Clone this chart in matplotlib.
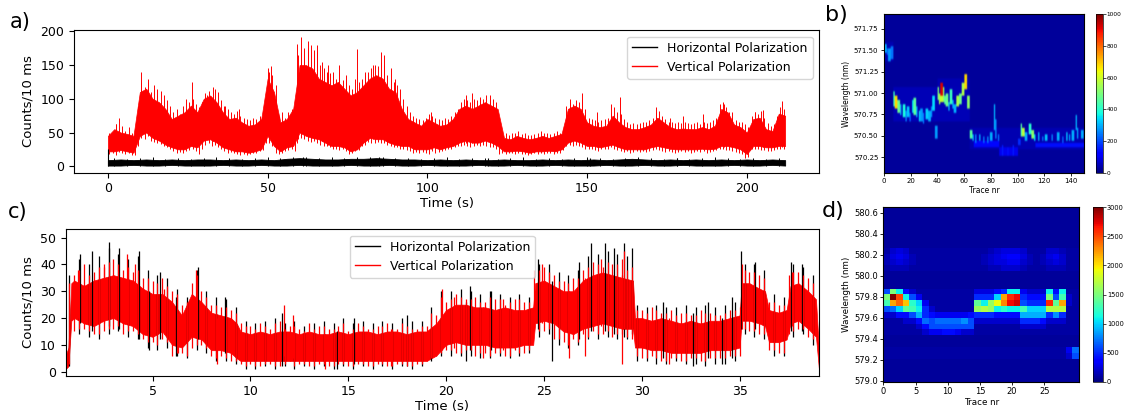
import numpy as np
import matplotlib
matplotlib.use("Agg")
import matplotlib.pyplot as plt
from matplotlib.lines import Line2D

# ---------------- a) long trace ----------------
# band edges every 2 s
a_time = np.arange(0, 213, 2)
a_vert_low = [22, 22, 24, 22, 20, 45, 50, 42, 38, 32,
              28, 25, 25, 30, 28, 38, 40, 35, 28, 25,
              22, 22, 20, 22, 25, 45, 30, 22, 28, 30,
              50, 45, 42, 40, 35, 30, 30, 28, 22, 25,
              35, 42, 40, 40, 35, 32, 30, 30, 25, 25,
              25, 28, 25, 28, 30, 35, 38, 35, 35, 38,
              35, 30, 22, 22, 23, 22, 20, 22, 22, 23,
              22, 25, 35, 38, 35, 30, 30, 28, 30, 32,
              28, 25, 25, 25, 25, 28, 30, 28, 26, 25,
              25, 25, 25, 26, 25, 26, 30, 30, 28, 25,
              18, 30, 30, 28, 28, 30, 30]
a_vert_high = [45, 55, 50, 48, 45, 110, 115, 100, 95, 85,
               70, 75, 80, 90, 80, 100, 105, 95, 80, 70,
               72, 65, 60, 62, 70, 130, 110, 65, 70, 85,
               150, 150, 145, 130, 125, 120, 125, 115, 105, 110,
               120, 130, 135, 130, 115, 110, 85, 70, 65, 60,
               70, 65, 60, 62, 70, 85, 90, 85, 90, 95,
               90, 85, 42, 40, 45, 42, 40, 42, 45, 42,
               45, 48, 85, 90, 85, 65, 60, 58, 60, 75,
               65, 58, 55, 55, 58, 62, 72, 65, 58, 55,
               56, 55, 55, 58, 55, 60, 85, 80, 62, 58,
               50, 70, 72, 55, 52, 78, 75]
# noise extremes every 1 s, half a second off the band grid
a_comb_time = np.arange(0.5, 212, 1.0)
a_vert_peak = [50, 48, 62, 55, 60, 52, 58, 50, 55, 90,
               125, 118, 130, 110, 120, 105, 112, 100, 98, 90,
               80, 85, 78, 90, 85, 95, 100, 92, 88, 95,
               108, 112, 100, 115, 110, 98, 90, 85, 80, 78,
               82, 75, 72, 70, 68, 72, 70, 75, 80, 110,
               140, 135, 120, 75, 80, 72, 80, 85, 95, 165,
               170, 160, 175, 165, 160, 170, 150, 145, 140, 138,
               135, 130, 140, 128, 125, 120, 115, 130, 125, 130,
               135, 140, 145, 150, 148, 155, 150, 135, 130, 125,
               120, 115, 100, 90, 80, 75, 72, 70, 68, 72,
               78, 75, 72, 70, 68, 72, 70, 75, 80, 85,
               95, 100, 98, 95, 100, 98, 102, 100, 105, 100,
               100, 95, 60, 48, 50, 47, 49, 50, 52, 48,
               50, 47, 46, 48, 50, 52, 49, 50, 48, 50,
               52, 50, 55, 90, 95, 92, 98, 95, 100, 85,
               72, 70, 68, 66, 68, 70, 72, 80, 88, 80,
               78, 70, 66, 62, 64, 62, 64, 66, 65, 68,
               72, 80, 82, 75, 70, 66, 65, 64, 66, 64,
               66, 64, 62, 64, 66, 62, 65, 64, 66, 68,
               72, 92, 95, 88, 80, 72, 68, 66, 65, 62,
               58, 75, 80, 78, 82, 72, 64, 60, 62, 75,
               88, 85]
a_vert_dip = [18, 20, 17, 21, 19, 18, 20, 17, 16, 30,
              42, 40, 45, 38, 36, 35, 33, 30, 28, 26,
              22, 20, 21, 19, 22, 24, 25, 22, 18, 26,
              32, 34, 30, 32, 28, 25, 22, 20, 21, 20,
              18, 17, 18, 16, 18, 19, 20, 22, 24, 35,
              35, 30, 20, 18, 20, 22, 24, 25, 22, 40,
              42, 40, 38, 36, 38, 35, 32, 30, 30, 28,
              25, 26, 24, 25, 22, 18, 20, 22, 24, 30,
              32, 36, 35, 34, 36, 34, 35, 32, 30, 28,
              28, 26, 25, 24, 22, 20, 21, 20, 21, 20,
              18, 22, 20, 21, 22, 24, 25, 26, 28, 30,
              30, 32, 30, 28, 30, 32, 30, 31, 30, 29,
              28, 26, 18, 19, 18, 19, 20, 18, 19, 18,
              18, 17, 18, 19, 18, 19, 18, 20, 19, 18,
              19, 20, 24, 30, 32, 30, 32, 30, 28, 26,
              25, 26, 24, 23, 25, 26, 26, 28, 26, 24,
              22, 21, 22, 20, 21, 22, 21, 22, 21, 22,
              24, 25, 24, 22, 21, 22, 21, 20, 21, 22,
              21, 22, 20, 21, 22, 21, 22, 20, 21, 22,
              24, 26, 25, 24, 24, 22, 21, 20, 18, 12,
              14, 25, 26, 25, 24, 24, 22, 23, 24, 25,
              25, 26]
# tallest single spikes
a_vert_spike_t = [2.5, 3.5, 10.5, 12.5, 15.5, 17.5, 24.5, 26.2, 31, 33,
                  36.7, 41, 50.2, 51, 59.3, 60.5, 61.5, 62.5, 63.5, 64.5,
                  65.5, 67, 69, 70.5, 72.5, 74.5, 78, 80.5, 83, 85.5,
                  86.5, 88.5, 90, 101, 112, 114, 116.5, 119.5, 120.5, 144.5,
                  148.3, 153, 157.4, 160.3, 171.5, 176, 180, 186.4, 192.7, 195.5,
                  202.5, 205.2, 211]
a_vert_spike_hi = [62, 72, 140, 125, 115, 105, 100, 125, 105, 118,
                   90, 85, 145, 148, 182, 192, 175, 185, 180, 172,
                   180, 155, 150, 140, 150, 135, 174, 140, 150, 170,
                   165, 145, 130, 80, 105, 108, 100, 105, 98, 100,
                   108, 80, 92, 102, 88, 72, 75, 77, 92, 80,
                   80, 84, 96]
a_vert_spike_lo = [25, 25, 55, 50, 42, 38, 28, 30, 40, 38,
                   28, 22, 45, 45, 35, 50, 48, 45, 45, 42,
                   40, 38, 32, 30, 30, 28, 25, 35, 40, 40,
                   40, 35, 32, 25, 35, 35, 35, 35, 33, 35,
                   35, 28, 30, 28, 28, 25, 25, 25, 28, 28,
                   28, 28, 28]

a_horiz_time = np.arange(0, 213, 4)
a_horiz_low = [1, 1, 2, 1, 1, 2, 1, 1, 1, 2,
               1, 1, 2, 1, 1, 2, 1, 1, 1, 2,
               1, 1, 2, 1, 1, 2, 1, 1, 1, 2,
               1, 1, 2, 1, 1, 2, 1, 1, 1, 2,
               1, 1, 2, 1, 1, 2, 1, 1, 1, 2,
               1, 1, 2, 1]
a_horiz_high = [9, 10, 9, 10, 9, 10, 9, 10, 10, 9,
                10, 9, 10, 9, 11, 12, 11, 10, 10, 11,
                11, 12, 11, 10, 10, 9, 10, 9, 10, 9,
                9, 10, 9, 9, 10, 9, 10, 9, 10, 9,
                10, 11, 10, 9, 10, 9, 10, 9, 10, 9,
                10, 9, 10, 9]
a_horiz_comb_time = np.arange(2, 211, 4)
a_horiz_peak = [12, 11, 12, 13, 11, 12, 11, 12, 13, 12,
                11, 12, 13, 12, 14, 13, 12, 13, 12, 13,
                14, 13, 12, 12, 11, 12, 13, 11, 12, 12,
                11, 12, 13, 11, 12, 11, 12, 13, 12, 11,
                12, 13, 12, 11, 12, 11, 12, 13, 12, 11,
                12, 11, 12]
a_horiz_spike_t = [0, 61, 85, 119, 151, 178]
a_horiz_spike_hi = [25, 14, 13, 12, 12, 12]

# ---------------- c) short trace ----------------
# dense core of the vertical trace
c_time = [0.56, 0.7, 0.85, 1.0, 1.5, 2.0, 2.5, 3.0, 3.5, 4.0,
          4.5, 5.0, 5.5, 6.0, 6.5, 7.0, 7.5, 8.0, 8.5, 9.0,
          9.3, 9.5, 10.0, 10.5, 11.0, 11.5, 12.0, 12.5, 13.0, 13.5,
          14.0, 14.5, 15.0, 15.5, 16.0, 16.5, 17.0, 17.5, 18.0, 18.5,
          19.0, 19.5, 20.0, 20.5, 21.0, 21.5, 22.0, 22.5, 23.0, 23.5,
          24.0, 24.45, 24.55, 25.0, 25.5, 26.0, 26.5, 27.0, 27.5, 28.0,
          28.5, 29.0, 29.55, 29.65, 30.0, 30.5, 31.0, 31.5, 32.0, 32.5,
          33.0, 33.5, 34.0, 34.5, 35.0, 35.1, 35.5, 36.0, 36.3, 36.5,
          37.0, 37.4, 37.6, 38.0, 38.5, 38.9, 39.05]
c_vert_low = [1, 2, 19, 20, 18, 17, 19, 20, 18, 17,
              14, 13, 15, 10, 9, 13, 12, 8, 8, 7,
              5, 4, 4, 4, 4, 4, 4, 4, 4, 4,
              4, 4, 4, 4, 4, 4, 4, 4, 4, 4,
              4, 6, 10, 11, 10, 10, 10, 9, 9, 9,
              10, 10, 18, 19, 18, 15, 14, 16, 17, 18,
              17, 16, 16, 9, 9, 8, 8, 7, 7, 7,
              7, 8, 8, 8, 9, 19, 19, 18, 17, 11,
              11, 12, 18, 19, 16, 13, 1]
c_vert_high = [6, 9, 33, 34, 32, 34, 35, 36, 35, 34,
               31, 29, 29, 26, 21, 29, 26, 22, 21, 20,
               18, 15, 14, 15, 14, 15, 15, 14, 15, 14,
               14, 15, 14, 15, 15, 14, 15, 15, 14, 15,
               15, 18, 23, 25, 25, 24, 24, 23, 24, 23,
               23, 24, 33, 34, 32, 30, 30, 34, 36, 37,
               36, 35, 34, 20, 20, 19, 20, 19, 18, 19,
               18, 19, 19, 20, 21, 33, 33, 31, 30, 23,
               22, 23, 32, 33, 30, 27, 8]
# noise extremes every 0.5 s (two interleaved sets for the vertical trace)
c_comb_time = np.arange(0.75, 39, 0.5)
c_vert_peak = [33, 38, 36, 39, 41, 40, 39, 38, 35, 33,
               32, 29, 26, 36, 28, 25, 24, 22, 17, 16,
               17, 18, 16, 17, 15, 16, 17, 16, 18, 16,
               17, 16, 17, 16, 18, 16, 17, 22, 28, 27,
               28, 27, 26, 28, 27, 26, 27, 26, 38, 37,
               34, 33, 35, 39, 40, 41, 40, 38, 23, 22,
               23, 22, 21, 22, 21, 22, 21, 22, 23, 38,
               37, 35, 26, 25, 37, 36, 33]
c_vert_dip = [3, 16, 15, 14, 16, 17, 15, 14, 11, 10,
              11, 7, 6, 10, 9, 5, 5, 4, 2, 2,
              3, 2, 3, 2, 3, 2, 3, 2, 3, 2,
              3, 2, 3, 2, 3, 2, 3, 5, 7, 8,
              7, 8, 7, 6, 7, 6, 7, 8, 15, 16,
              12, 10, 11, 13, 14, 15, 14, 13, 6, 5,
              5, 4, 5, 4, 5, 4, 5, 5, 6, 16,
              15, 14, 8, 7, 15, 16, 12]
c_comb2_time = np.arange(1.0, 38.6, 0.5)
c_vert_peak2 = [36, 40, 37, 39, 42, 38, 37, 35, 34, 35,
                30, 25, 33, 30, 25, 24, 23, 18, 17, 18,
                16, 19, 17, 16, 18, 17, 16, 17, 15, 18,
                16, 17, 18, 16, 17, 16, 17, 21, 26, 29,
                27, 28, 26, 27, 25, 27, 26, 38, 39, 36,
                34, 35, 38, 41, 39, 40, 42, 39, 23, 24,
                22, 23, 22, 21, 23, 22, 21, 23, 24, 37,
                36, 26, 25, 36, 37, 35]
c_vert_dip2 = [15, 16, 14, 15, 16, 14, 15, 12, 11, 12,
               6, 7, 9, 10, 6, 6, 4, 3, 3, 2,
               3, 2, 4, 3, 2, 3, 2, 3, 2, 3,
               2, 3, 2, 3, 2, 3, 4, 6, 8, 7,
               8, 6, 7, 7, 6, 8, 7, 16, 15, 12,
               11, 12, 14, 15, 14, 13, 14, 12, 5, 6,
               4, 5, 4, 5, 4, 5, 5, 6, 6, 15,
               14, 8, 7, 14, 16, 13]
c_horiz_peak = [36, 42, 40, 43, 46, 44, 42, 43, 38, 36,
                35, 31, 28, 38, 30, 28, 27, 24, 19, 18,
                19, 20, 18, 19, 17, 18, 19, 18, 20, 18,
                19, 18, 19, 18, 20, 19, 19, 24, 30, 30,
                31, 30, 29, 30, 29, 28, 29, 28, 40, 40,
                37, 36, 38, 43, 44, 45, 44, 43, 25, 24,
                25, 24, 24, 25, 24, 25, 24, 25, 26, 40,
                40, 38, 29, 28, 40, 39, 36]
c_horiz_dip = [2, 14, 13, 12, 14, 15, 13, 12, 9, 8,
               9, 6, 5, 8, 7, 4, 4, 3, 1, 1,
               2, 1, 2, 1, 2, 1, 2, 1, 2, 1,
               2, 1, 2, 1, 2, 1, 2, 4, 6, 6,
               6, 6, 5, 5, 6, 5, 6, 7, 13, 14,
               10, 9, 10, 12, 12, 13, 12, 12, 4, 4,
               3, 3, 4, 3, 3, 2, 3, 3, 4, 14,
               13, 12, 6, 6, 13, 14, 10]
c_vert_spike_t = [1.2, 2.5, 3.7, 4.1, 5.6, 6.3, 7.2, 8.3, 11.7, 12.2,
                  13.8, 17.2, 19.8, 20.4, 21.9, 22.9, 24.9, 26.3, 27.1, 27.9,
                  29.0, 29.1, 31.4, 35.1, 37.7]
c_vert_spike_lo = [20, 18, 18, 17, 14, 7, 13, 3, 6, 5,
                   1, 2, 8, 9, 5, 8, 18, 5, 6, 17,
                   3, 16, 3, 16, 17]
c_vert_spike_hi = [38, 40, 44, 40, 31, 22, 38, 20, 25, 21,
                   14, 16, 31, 28, 24, 27, 40, 30, 35, 42,
                   36, 45, 20, 40, 37]
c_horiz_spike_t = [1.3, 1.9, 2.8, 3.3, 4.3, 4.8, 5.4, 6.2, 7.3, 8.7,
                   11.6, 14.4, 15.3, 18.0, 21.0, 21.2, 22.3, 24.7, 25.4, 26.8,
                   27.4, 28.1, 28.6, 29.1, 29.5, 31.1, 32.6, 33.4, 34.1, 34.6,
                   35.05, 35.8, 37.6, 38.2]
c_horiz_spike_lo = [18, 15, 17, 16, 12, 8, 12, 6, 12, 7,
                    2, 1, 3, 2, 4, 8, 8, 16, 4, 12,
                    15, 15, 14, 13, 14, 5, 2, 5, 3, 5,
                    16, 16, 15, 15]
c_horiz_spike_hi = [44, 45, 48.5, 46, 45, 30, 37, 28, 39, 28,
                    22, 15, 20, 21, 26, 32, 30, 42, 34, 41,
                    48, 48, 46, 48, 46, 26, 22, 26, 20, 28,
                    45, 41, 41, 40]

# ---------------- b) spectra vs trace number ----------------
b_traces = 150
b_nm_range = (570.07, 571.92)
b_nm_rows = 74
b_background = 25
# (first trace, end trace, lower nm, upper nm, counts)
b_streaks = [
    (0, 7, 571.36, 571.60, 45), (7, 64, 570.66, 571.06, 50), (40, 64, 571.0, 571.16, 45),
    (64, 150, 570.34, 570.60, 45),
    (0, 2, 571.47, 571.57, 300), (2, 3, 571.44, 571.52, 220), (3, 5, 571.38, 571.52, 280),
    (5, 7, 571.40, 571.55, 240), (7, 8, 570.84, 571.02, 420), (8, 10, 570.82, 570.97, 680),
    (10, 12, 570.78, 570.92, 480), (12, 13, 570.74, 570.88, 300), (14, 16, 570.72, 570.86, 380),
    (16, 17, 570.68, 570.80, 250), (17, 19, 570.72, 570.84, 320), (19, 20, 570.66, 570.76, 220),
    (21, 22, 570.76, 570.92, 350), (22, 24, 570.74, 570.95, 460), (24, 25, 570.72, 570.84, 300),
    (26, 27, 570.68, 570.80, 330), (27, 29, 570.66, 570.82, 280), (29, 30, 570.64, 570.76, 240),
    (31, 33, 570.70, 570.82, 330), (33, 35, 570.68, 570.80, 300), (35, 36, 570.72, 570.84, 260),
    (36, 38, 570.80, 570.96, 340), (38, 40, 570.46, 570.62, 280), (40, 41, 570.92, 571.06, 500),
    (41, 42, 570.88, 571.00, 550), (42, 44, 570.98, 571.12, 920), (42, 44, 570.90, 570.98, 600),
    (44, 45, 570.90, 571.08, 520), (45, 46, 570.86, 570.98, 450), (46, 48, 570.84, 571.00, 480),
    (48, 49, 570.80, 570.90, 300), (49, 51, 570.86, 571.04, 420), (51, 52, 570.82, 570.92, 300),
    (52, 54, 570.76, 570.86, 300), (54, 56, 570.84, 570.96, 560), (56, 58, 570.86, 571.00, 480),
    (58, 60, 570.98, 571.12, 560), (60, 62, 571.04, 571.22, 680), (62, 64, 570.82, 570.98, 520),
    (64, 66, 570.46, 570.58, 450), (66, 67, 570.44, 570.52, 300), (68, 69, 570.42, 570.52, 260),
    (71, 72, 570.44, 570.52, 300), (74, 75, 570.42, 570.50, 240), (77, 78, 570.42, 570.50, 260),
    (79, 81, 570.44, 570.54, 300), (82, 83, 570.56, 570.86, 300), (83, 84, 570.48, 570.70, 260),
    (85, 86, 570.44, 570.52, 240), (67, 86, 570.38, 570.44, 130), (86, 100, 570.28, 570.36, 100),
    (88, 89, 570.26, 570.40, 150), (92, 93, 570.26, 570.38, 140), (96, 97, 570.28, 570.40, 150),
    (100, 102, 570.40, 570.48, 170), (102, 103, 570.50, 570.64, 450), (103, 105, 570.50, 570.60, 580),
    (105, 107, 570.44, 570.54, 300), (108, 110, 570.52, 570.64, 400), (110, 112, 570.46, 570.58, 520),
    (112, 113, 570.44, 570.52, 350), (113, 150, 570.36, 570.42, 140), (115, 116, 570.44, 570.54, 300),
    (118, 119, 570.44, 570.50, 240), (120, 122, 570.44, 570.52, 320), (125, 126, 570.44, 570.52, 260),
    (129, 131, 570.44, 570.54, 300), (133, 134, 570.42, 570.50, 220), (136, 137, 570.44, 570.54, 320),
    (138, 139, 570.44, 570.52, 280), (140, 142, 570.44, 570.56, 300), (143, 144, 570.56, 570.74, 300),
    (144, 145, 570.46, 570.60, 280), (147, 149, 570.46, 570.56, 300),
]

# ---------------- d) spectra vs trace number (x100 counts) ----------------
d_extent = [0, 30.4, 578.99, 580.65]
d_background = 0.8
d_rows = {
    7:  [1, 2, 2.5, 2, 1, 1, 1, 1, 1, 1, 1, 1, 1, 1, 1, 1, 1.5, 2, 2.5, 2.5, 2.5, 2, 1, 1, 1, 2, 2, 1.5, 1, 1],
    8:  [1.5, 2.5, 3, 2.5, 1.5, 1, 1, 1, 1, 1, 1, 1, 1, 1, 1, 1.5, 2, 2.5, 3, 3.5, 3.5, 2.5, 1.5, 1, 1.5, 2.5, 3, 2, 1, 1],
    9:  [1.5, 2, 2.5, 2, 1.5, 1, 1, 1, 1, 1, 1, 1, 1, 1, 1, 1.5, 2, 2.5, 2.5, 3, 3, 2, 1.5, 1, 1.5, 2, 2.5, 2, 1, 1],
    10: [1, 1.5, 1.5, 1.5, 1, 1, 1, 1, 1, 1, 1, 1, 1, 1, 1, 1, 1.5, 1.5, 2, 2, 2, 1.5, 1, 1, 1, 1.5, 1.5, 1.5, 1, 1],
    14: [6, 15, 11, 4, 2, 1, 1, 1, 1, 1, 1, 1, 1, 1, 2.5, 2.5, 2.5, 4, 5, 11, 11, 3, 2, 2, 2, 11, 4, 11, 1, 1],
    15: [15, 30, 25, 11, 6, 3, 1, 1, 1, 1, 1, 1, 1, 1, 5, 5, 5, 10, 22, 26, 27, 5, 4, 4, 4, 15, 6, 13, 2, 1],
    16: [13, 22, 24, 21, 12, 10, 3, 1, 1, 1, 1, 1, 1, 1, 14, 11, 16, 19, 23, 27, 28, 6, 5, 5, 5, 26, 14, 22, 2, 1],
    17: [6, 7, 10, 14, 13, 11, 5, 2, 1, 1, 1, 1, 1, 1, 16, 17, 16, 11, 12, 11, 11, 13, 10, 10, 10, 17, 17, 17, 1, 1],
    18: [2, 2, 4, 4, 6, 9, 5, 4, 3, 3, 3, 3, 3, 4, 5, 5, 5, 4, 4, 4, 4, 9, 9, 9, 9, 5, 8, 5, 1, 1],
    19: [1, 1, 1, 2, 2, 4, 7, 6, 7, 7, 7, 7, 8, 6, 2, 2, 2, 2, 2, 2, 2, 5, 5, 5, 4, 2, 2, 2, 1, 1],
    20: [1, 1, 1, 1, 1, 2, 4, 6, 6, 6, 6, 6, 6, 6, 1, 1, 1, 1, 1, 1, 1, 2, 2, 2, 2, 1, 1, 1, 1, 1],
    21: [1, 1, 1, 1, 1, 1, 2, 3, 3, 4, 4, 3, 2, 2, 1, 1, 1, 1, 1, 1, 1, 1, 1, 1, 1, 1, 1, 1, 1, 1],
    24: [1, 1, 1, 1, 1, 1, 1, 1, 1, 1, 1, 1, 1, 1, 1, 1, 1, 1, 1, 1, 1, 1, 1, 1, 1, 1, 1, 1, 3, 7],
    25: [1, 1, 1, 1, 1, 1, 1, 1, 1, 1, 1, 1, 1, 1, 1, 1, 1, 1, 1, 1, 1, 1, 1, 1, 1, 1, 1, 1, 2, 6],
}

fig = plt.figure(figsize=(11.30, 4.11), dpi=100)
handles = [Line2D([], [], color="black", lw=1), Line2D([], [], color="red", lw=1)]
labels = ["Horizontal Polarization", "Vertical Polarization"]

# ---- a)
ax_a = fig.add_axes([0.0655, 0.5798, 0.6593, 0.3465])
ax_a.fill_between(a_time, a_vert_low, a_vert_high, color="red", lw=0.5)
ax_a.vlines(a_comb_time, a_vert_dip, a_vert_peak, color="red", lw=0.7)
ax_a.vlines(a_vert_spike_t, a_vert_spike_lo, a_vert_spike_hi, color="red", lw=0.7)
ax_a.fill_between(a_horiz_time, a_horiz_low, a_horiz_high, color="black", lw=0.6)
ax_a.vlines(a_horiz_comb_time, 0, a_horiz_peak, color="black", lw=0.7)
ax_a.vlines(a_horiz_spike_t, 0, a_horiz_spike_hi, color="black", lw=0.8)
ax_a.set_xlim(-10.6, 222.6)
ax_a.set_ylim(-9.6, 201.6)
ax_a.set_xticks([0, 50, 100, 150, 200])
ax_a.set_yticks([0, 50, 100, 150, 200])
ax_a.tick_params(labelsize=9)
ax_a.set_xlabel("Time (s)", fontsize=9.5, labelpad=1)
ax_a.set_ylabel("Counts/10 ms", fontsize=9.5)
ax_a.legend(handles, labels, loc="upper right", fontsize=9)

# ---- c)
ax_c = fig.add_axes([0.0581, 0.0859, 0.6666, 0.3562])
ax_c.vlines(c_comb_time, c_horiz_dip, c_horiz_peak, color="black", lw=0.9)
ax_c.vlines(c_horiz_spike_t, c_horiz_spike_lo, c_horiz_spike_hi, color="black", lw=0.9)
ax_c.fill_between(c_time, c_vert_low, c_vert_high, color="red", lw=0.5)
ax_c.vlines(c_comb_time, c_vert_dip, c_vert_peak, color="red", lw=0.9)
ax_c.vlines(c_comb2_time, c_vert_dip2, c_vert_peak2, color="red", lw=0.9)
ax_c.vlines(c_vert_spike_t, c_vert_spike_lo, c_vert_spike_hi, color="red", lw=0.9)
ax_c.set_xlim(0.56, 39.05)
ax_c.set_ylim(-1.5, 53.1)
ax_c.set_xticks([5, 10, 15, 20, 25, 30, 35])
ax_c.set_yticks([0, 10, 20, 30, 40, 50])
ax_c.tick_params(labelsize=9)
ax_c.set_xlabel("Time (s)", fontsize=9.5, labelpad=1)
ax_c.set_ylabel("Counts/10 ms", fontsize=9.5)
ax_c.legend(handles, labels, loc="upper center", fontsize=9)

# ---- b)
b_img = np.full((b_nm_rows, b_traces), float(b_background))
edges = np.linspace(b_nm_range[0], b_nm_range[1], b_nm_rows + 1)
centers = (edges[:-1] + edges[1:]) / 2
for t0, t1, lo, hi, counts in b_streaks:
    rows = (centers >= lo) & (centers <= hi)
    b_img[rows, t0:t1] = np.maximum(b_img[rows, t0:t1], counts)

ax_b = fig.add_axes([0.7823, 0.5798, 0.1773, 0.3854])
im_b = ax_b.imshow(b_img, origin="lower", aspect="auto", cmap="jet", vmin=0, vmax=1000,
                   extent=[0, b_traces, *b_nm_range], interpolation="gaussian")
b_yticks = [570.25, 570.5, 570.75, 571.0, 571.25, 571.5, 571.75]
ax_b.set_xticks([0, 20, 40, 60, 80, 100, 120, 140])
ax_b.set_yticks(b_yticks)
ax_b.set_yticklabels([f"{v:.2f}" for v in b_yticks])
ax_b.tick_params(labelsize=5, length=2.5, width=0.6, pad=1.5)
ax_b.set_xlabel("Trace nr", fontsize=5.5, labelpad=1)
ax_b.set_ylabel("Wavelength (nm)", fontsize=5.5, labelpad=2)
cax_b = fig.add_axes([0.9699, 0.5798, 0.0059, 0.3854])
cb_b = fig.colorbar(im_b, cax=cax_b, ticks=[0, 200, 400, 600, 800, 1000])
cb_b.ax.tick_params(labelsize=4.2, length=2, width=0.5, pad=1)
cb_b.outline.set_linewidth(0.5)

# ---- d)
d_img = np.full((30, 30), d_background)
for r, vals in d_rows.items():
    d_img[r] = vals
d_img = d_img * 100

ax_d = fig.add_axes([0.7817, 0.0713, 0.1732, 0.4243])
im_d = ax_d.imshow(d_img, origin="upper", aspect="auto", cmap="jet", vmin=0, vmax=3000,
                   extent=d_extent, interpolation="nearest")
d_yticks = [579.0, 579.2, 579.4, 579.6, 579.8, 580.0, 580.2, 580.4, 580.6]
ax_d.set_xticks([0, 5, 10, 15, 20, 25])
ax_d.set_yticks(d_yticks)
ax_d.set_yticklabels([f"{v:.1f}" for v in d_yticks])
ax_d.tick_params(labelsize=6, length=2.5, width=0.6, pad=1.5)
ax_d.set_xlabel("Trace nr", fontsize=6.3, labelpad=1)
ax_d.set_ylabel("Wavelength (nm)", fontsize=6.3, labelpad=2)
cax_d = fig.add_axes([0.9675, 0.0713, 0.0083, 0.4243])
cb_d = fig.colorbar(im_d, cax=cax_d, ticks=[0, 500, 1000, 1500, 2000, 2500, 3000])
cb_d.ax.tick_params(labelsize=4.8, length=2, width=0.5, pad=1)
cb_d.outline.set_linewidth(0.5)

# panel letters
fig.text(0.009, 0.946, "a)", fontsize=15, va="center")
fig.text(0.730, 0.963, "b)", fontsize=16, va="center")
fig.text(0.007, 0.484, "c)", fontsize=15, va="center")
fig.text(0.727, 0.487, "d)", fontsize=16, va="center")

fig.savefig("out.png", dpi=100)
